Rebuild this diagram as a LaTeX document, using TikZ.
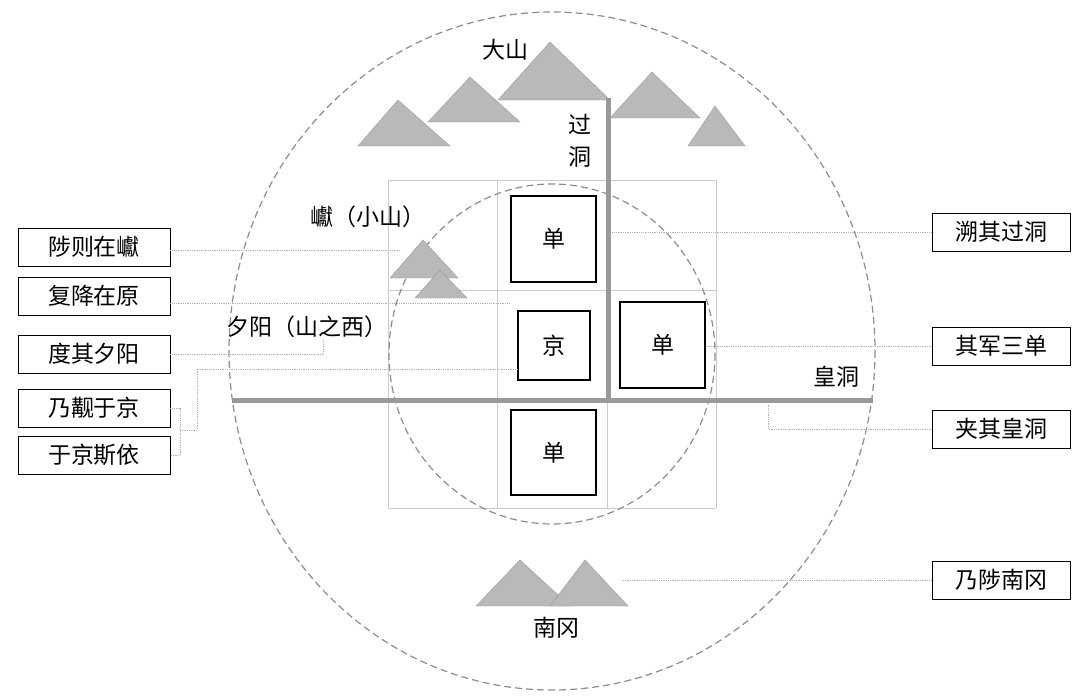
\documentclass[tikz,border=0pt]{standalone}
\usepackage{fontspec}
\setmainfont{Noto Sans CJK SC}
\tikzset{
  label box/.style={draw, thick, minimum width=152pt, minimum height=38pt, inner sep=0pt, font=\fontsize{23}{23}\selectfont},
  cell box/.style={draw, line width=1.5pt, inner sep=0pt, font=\fontsize{23}{23}\selectfont},
  hill/.style={fill=gray!55, draw=gray!80},
  lead/.style={gray!60, densely dotted, thick},
  road/.style={gray!80, line width=5pt},
  ring/.style={gray!90, dash pattern=on 7pt off 4pt, line width=1.2pt},
  plain text/.style={font=\fontsize{23}{23}\selectfont, inner sep=0pt}
}
\begin{document}
\begin{tikzpicture}[x=1pt, y=-1pt]
\useasboundingbox (0,0) rectangle (1080,697);
% grid
\foreach \x in {388,497,607,716} \draw[gray!40, thick] (\x,180) -- (\x,508);
\foreach \y in {180,290,400,508} \draw[gray!40, thick] (388,\y) -- (716,\y);
% circles
\draw[ring] (552,351) ellipse [x radius=323, y radius=339];
\draw[ring] (552,354) ellipse [x radius=163, y radius=170];
% hills
\draw[hill] (358,146) -- (398,100) -- (450,146) -- cycle;
\draw[hill] (428,122) -- (470,77) -- (520,122) -- cycle;
\draw[hill] (498,100) -- (550,42) -- (610,100) -- cycle;
\draw[hill] (610,118) -- (652,72) -- (700,118) -- cycle;
\draw[hill] (688,146) -- (715,106) -- (745,146) -- cycle;
\draw[hill] (390,278) -- (423,240) -- (458,278) -- cycle;
\draw[hill] (415,298) -- (440,270) -- (467,298) -- cycle;
\draw[hill] (476,606) -- (520,560) -- (570,606) -- cycle;
\draw[hill] (550,606) -- (585,560) -- (628,606) -- cycle;
% roads
\draw[road] (232,400) -- (873,400);
\draw[road] (608,98) -- (608,400);
% cells
\node[cell box, minimum width=85pt, minimum height=86pt] (north) at (553.5,239) {单};
\node[cell box, minimum width=72pt, minimum height=69pt] (jing) at (554,345.5) {京};
\node[cell box, minimum width=85pt, minimum height=86pt] (east) at (662.5,345) {单};
\node[cell box, minimum width=85pt, minimum height=85pt] (south) at (553.5,452.5) {单};
% place names
\node[plain text] (dashan) at (505,50) {大山};
\node[plain text] (guo) at (580,125) {过};
\node[plain text] (dong) at (580,157) {洞};
\node[plain text, anchor=west] (yan) at (310,217) {巘（小山）};
\node[plain text, anchor=west] (xiyang) at (226,327) {夕阳（山之西）};
\node[plain text] (huangdong) at (836,377) {皇洞};
\node[plain text] (nangang) at (556,628) {南冈};
% left labels
\node[label box] (l1) at (94,247) {陟则在巘};
\node[label box] (l2) at (94,296) {复降在原};
\node[label box] (l3) at (94,354) {度其夕阳};
\node[label box] (l4) at (94,408) {乃觏于京};
\node[label box] (l5) at (94,455) {于京斯依};
% right labels
\node[label box, minimum width=138pt] (r1) at (1001,232) {溯其过洞};
\node[label box, minimum width=138pt] (r2) at (1001,346) {其军三单};
\node[label box, minimum width=138pt] (r3) at (1001,429) {夹其皇洞};
\node[label box, minimum width=138pt] (r4) at (1001,580) {乃陟南冈};
% leads
\coordinate (y1) at (400,250);
\coordinate (y2) at (510,303);
\coordinate (y3) at (323,340);
\coordinate (hd) at (768,405);
\draw[lead] (l1.east |- y1) -- (y1);
\draw[lead] (l2.east |- y2) -- (y2);
\draw[lead] (l3.east) -- (323,354) -- (y3);
\draw[lead] (l4.east) -- (180,408) -- (180,455) -- (l5.east);
\draw[lead] (180,430) -- (197,430) -- (197,369) -- (jing.west |- 0,369);
\draw[lead] (r1.west) -- (612,232);
\draw[lead] (r2.west) -- (east.east |- r2);
\draw[lead] (r3.west) -- (768,429) -- (hd);
\draw[lead] (r4.west) -- (622,580);
\end{tikzpicture}
\end{document}
